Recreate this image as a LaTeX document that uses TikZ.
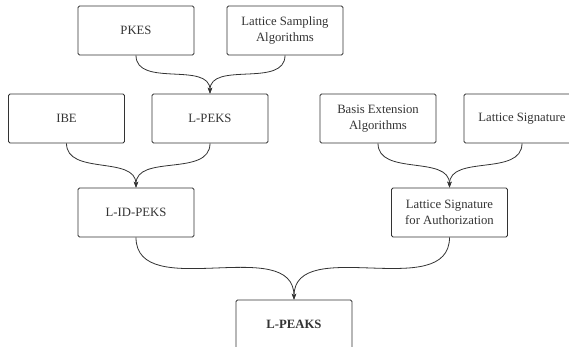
\documentclass[tikz,border=0pt]{standalone}
\usepackage{fontspec}
\setmainfont{Liberation Serif}
\usepackage{tikz}
\usetikzlibrary{arrows.meta}
\definecolor{ink}{HTML}{333333}

\begin{document}
\begin{tikzpicture}
[x=1pt,y=1pt,>={Stealth[length=6pt,width=4.5pt]},
 box/.style={draw=ink,line width=0.8pt,rounded corners=1.5pt,minimum width=116pt,minimum height=49pt,
   align=center,text=ink,font=\fontsize{12.7}{16.5}\selectfont},
 link/.style={->,draw=ink,line width=0.8pt}]

% the frame
\useasboundingbox (0,0) rectangle (569,347);

% the boxes
\node[box] (pkes)   at (136,316.5) {PKES};
\node[box] (lsa)    at (285,316.5) {Lattice Sampling\\Algorithms};
\node[box] (ibe)    at (66.5,228.5) {IBE};
\node[box] (lpeks)  at (210,228.5) {L-PEKS};
\node[box] (bea)    at (378,228.5) {Basis Extension\\Algorithms};
\node[box] (ls)     at (522,228.5) {Lattice Signature};
\node[box] (lidpeks) at (136,134.5) {L-ID-PEKS};
\node[box] (lsauth) at (449.5,134.5) {Lattice Signature\\for Authorization};
\node[box] (lpeaks) at (294,22.5) {\bfseries L-PEAKS};

% the links
\draw[link] (pkes.south) to[out=-90,in=90] (lpeks.north);
\draw[link] (lsa.south) to[out=-90,in=90] (lpeks.north);
\draw[link] (ibe.south) to[out=-90,in=90] (lidpeks.north);
\draw[link] (lpeks.south) to[out=-90,in=90] (lidpeks.north);
\draw[link] (bea.south) to[out=-90,in=90] (lsauth.north);
\draw[link] (ls.south) to[out=-90,in=90] (lsauth.north);
\draw[link] (lidpeks.south) to[out=-90,in=90] (lpeaks.north);
\draw[link] (lsauth.south) to[out=-90,in=90] (lpeaks.north);

\end{tikzpicture}
\end{document}
